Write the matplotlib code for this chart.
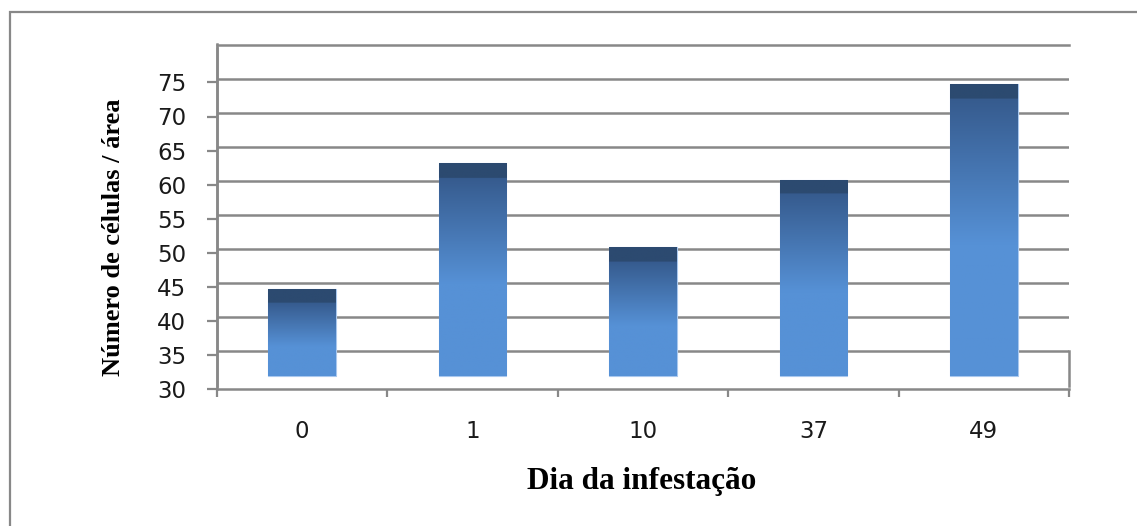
import matplotlib
matplotlib.use("Agg")
import matplotlib.pyplot as plt
import matplotlib.patches as patches
import numpy as np

# data (cell counts per area by infestation day)
dias = ["0", "1", "10", "37", "49"]
celulas = [44.2, 62.6, 50.3, 60.2, 74.2]

W, H = 1137, 526
fig = plt.figure(figsize=(W / 100, H / 100), dpi=100)


def fx(px):
    return px / W


def fy(py):
    return 1 - py / H


grey = '#888888'
base = 31.4      # where the 3D floor cuts the bars
cap_h = 2.1      # depth of the dark top face, in data units
dark_cap = np.array([0x2c, 0x4a, 0x70]) / 255.
grad_top = np.array([0x36, 0x5b, 0x8e]) / 255.
grad_bot = np.array([0x56, 0x91, 0xd6]) / 255.

# back wall: gridlines and bars
back = fig.add_axes([fx(217), fy(385.6), fx(1069) - fx(217), fy(44.5) - fy(385.6)])
back.set_xlim(-0.5, 4.5)
back.set_ylim(30, 80)
back.set_yticks(np.arange(35, 80, 5))
back.set_xticks([])
back.tick_params(axis='y', length=0, labelleft=False)
back.grid(axis='y', color=grey, lw=1.8, zorder=0)
back.set_axisbelow(True)
for s in ['right', 'bottom']:
    back.spines[s].set_visible(False)
for s in ['top', 'left']:
    back.spines[s].set_color(grey)
    back.spines[s].set_linewidth(1.8)

x = np.arange(len(dias))
bars = back.bar(x, np.array(celulas) - base, bottom=base, width=0.397,
                color=grad_bot, edgecolor='#a9c8ee', lw=0.8, zorder=2)

# shade each bar: dark top face, then gradient down to the light blue
for b in bars:
    x0, y0 = b.get_x(), b.get_y()
    w, h = b.get_width(), b.get_height()
    n = 300
    t = np.linspace(0, 1, n)  # 0 at top, 1 at bottom
    cf = cap_h / h
    img = np.zeros((n, 1, 3))
    for i, ti in enumerate(t):
        if ti < cf:
            img[i, 0] = dark_cap
        else:
            f = min((ti - cf) / 0.5, 1.0)
            img[i, 0] = grad_top + (grad_bot - grad_top) * f
    im = back.imshow(img, extent=(x0, x0 + w, y0, y0 + h), aspect='auto',
                     origin='upper', zorder=2.5, interpolation='bilinear')
    im.set_clip_path(b)

# right edge of the floor
back.plot([4.5, 4.5], [35, 30], color=grey, lw=1.8, clip_on=False, zorder=3)

# front axis: ticks and labels
front = fig.add_axes([fx(217), fy(389.3), fx(1069) - fx(217), 50 * 6.82 / H])
front.set_facecolor('none')
front.set_xlim(-0.5, 4.5)
front.set_ylim(30, 80)
for s in ['top', 'right']:
    front.spines[s].set_visible(False)
for s in ['left', 'bottom']:
    front.spines[s].set_color(grey)
    front.spines[s].set_linewidth(1.8)
front.set_yticks(np.arange(30, 80, 5))
front.tick_params(axis='y', length=7.2, width=1.6, color=grey, pad=15,
                  labelsize=16.5, labelcolor='#1a1a1a')
front.set_xticks(np.arange(-0.5, 5.0, 1.0))
front.set_xticklabels([])
front.tick_params(axis='x', which='major', length=5.8, width=1.6, color=grey)
front.set_xticks(x, minor=True)
front.set_xticklabels(dias, minor=True)
front.tick_params(axis='x', which='minor', length=0, pad=22,
                  labelsize=16.5, labelcolor='#1a1a1a')

fig.text(fx(114), fy(237), 'Número de células / área', rotation=90,
         ha='center', va='center', family='Liberation Serif',
         fontweight='bold', fontsize=19)
fig.text(fx(642), fy(482), 'Dia da infestação', ha='center', va='center',
         family='Liberation Serif', fontweight='bold', fontsize=22.5)

# chart area border (right and bottom edges fall outside the image)
border = patches.Rectangle((fx(9.5), -0.2), 1.5, fy(12) + 0.2, fill=False,
                           edgecolor=grey, lw=1.6, transform=fig.transFigure)
fig.add_artist(border)

fig.savefig('out.png', dpi=100)
